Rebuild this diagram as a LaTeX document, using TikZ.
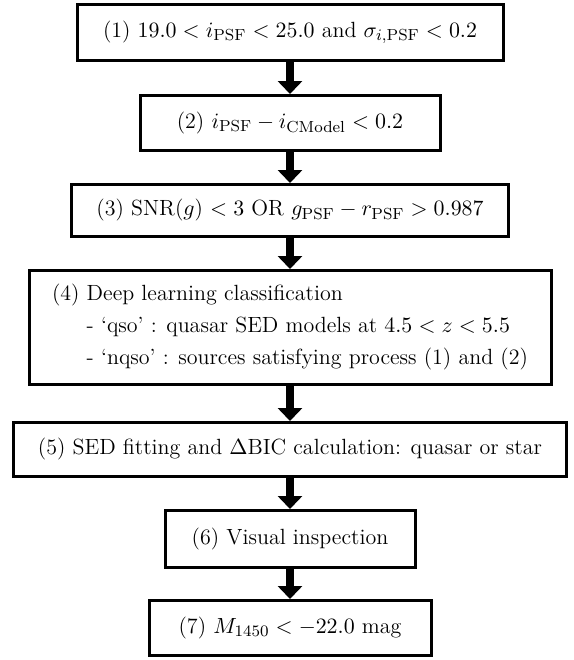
\documentclass[tikz,border=0pt]{standalone}
\usepackage{tikz}
\usetikzlibrary{arrows.meta,positioning}

\tikzset{
  stepbox/.style={draw,line width=1.5pt,inner sep=2pt,font=\fontsize{11}{16}\selectfont},
  flowarrow/.style={line width=4pt,-{Triangle[width=12pt,length=6.5pt]}}
}

\begin{document}
\begin{tikzpicture}[x=0.5pt,y=-0.5pt]
	\useasboundingbox (0,0) rectangle (574,660);
	% selection steps
	\node[stepbox,minimum width=213pt,minimum height=28pt] (s1) at (290,32.5) {(1) $19.0 < i_{\rm PSF} < 25.0$ and $\sigma_{i,{\rm PSF}} < 0.2$};
	\node[stepbox,minimum width=150pt,minimum height=27.5pt] (s2) at (290,123) {(2) $i_{\rm PSF} - i_{\rm CModel} < 0.2$};
	\node[stepbox,minimum width=218.5pt,minimum height=26pt] (s3) at (290,210.5) {(3) SNR($g$) $< 3$ OR $g_{\rm PSF} - r_{\rm PSF} > 0.987$};
	\node[stepbox,minimum width=261pt,minimum height=57pt,align=left] (s4) at (290,327.5) {(4) Deep learning classification\\
		\phantom{(4)} - `qso' : quasar SED models at $4.5 < z < 5.5$\\
		\phantom{(4)} - `nqso' : sources satisfying process (1) and (2)};
	\node[stepbox,minimum width=276.5pt,minimum height=27pt] (s5) at (290,449.5) {(5) SED fitting and $\Delta$BIC calculation: quasar or star};
	\node[stepbox,minimum width=125pt,minimum height=28.5pt] (s6) at (290,539) {(6) Visual inspection};
	\node[stepbox,minimum width=141pt,minimum height=27.5pt] (s7) at (290,628) {(7) $M_{1450} < -22.0$ mag};
	% arrows
	\foreach \a/\b in {s1/s2,s2/s3,s3/s4,s4/s5,s5/s6,s6/s7}
		\draw[flowarrow] (\a.south) -- (\b.north);
\end{tikzpicture}
\end{document}
